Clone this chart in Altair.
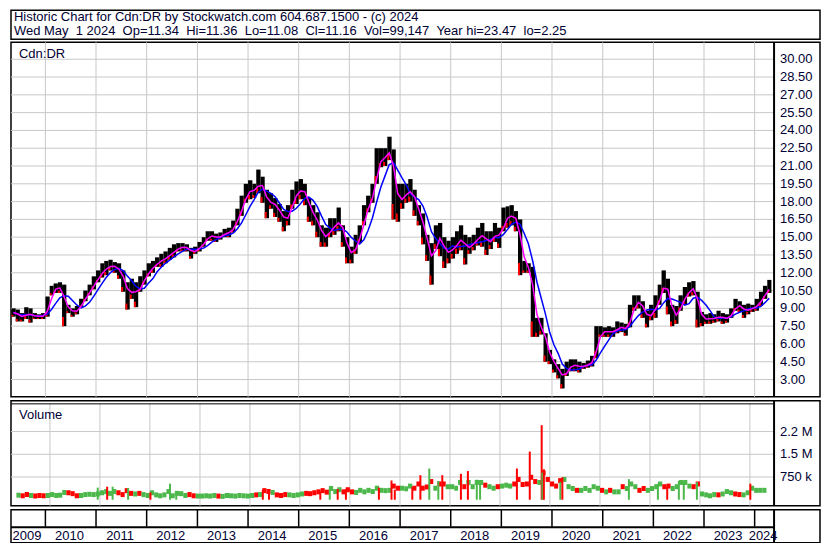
import altair as alt
import pandas as pd

# ---------------- texts ----------------
TITLE_LINE_1 = "Historic Chart for Cdn:DR by Stockwatch.com 604.687.1500 - (c) 2024"
TITLE_LINE_2 = ("Wed May\u00a0\u00a01 2024\u00a0\u00a0Op=11.34\u00a0\u00a0Hi=11.36\u00a0\u00a0Lo=11.08"
                "\u00a0\u00a0Cl=11.16\u00a0\u00a0Vol=99,147\u00a0\u00a0Year hi=23.47\u00a0\u00a0lo=2.25")
PRICE_LABEL = "Cdn:DR"
VOLUME_LABEL = "Volume"

# ---------------- data (monthly) ----------------
FIRST_MONTH = "2009-05-01"
MONTH_HIGH = [
    9.0, 8.9, 8.6, 9.1, 9.0, 8.6, 8.5, 8.6,                                  # 2009 May-Dec
    10.0, 10.9, 11.1, 11.2, 11.0, 9.3, 9.0, 9.2, 9.8, 10.5, 11.0, 11.7,      # 2010
    12.2, 12.8, 13.0, 13.1, 12.9, 12.8, 12.2, 11.2, 11.5, 11.2, 11.7, 12.2,  # 2011
    12.8, 13.0, 13.3, 13.6, 13.8, 14.1, 14.4, 14.5, 14.5, 14.4, 14.1, 14.2,  # 2012
    14.6, 15.0, 15.5, 15.5, 15.3, 15.4, 15.7, 15.8, 16.4, 17.4, 18.5, 19.5,  # 2013
    19.8, 19.5, 20.7, 20.1, 19.0, 18.7, 18.3, 17.8, 17.2, 17.7, 19.0, 19.7,  # 2014
    19.9, 19.5, 18.3, 17.7, 17.1, 16.0, 15.8, 16.6, 16.6, 17.5, 16.0, 15.0,  # 2015
    14.2, 15.2, 16.0, 17.7, 18.5, 19.5, 22.5, 22.5, 22.5, 23.47, 22.4, 19.5, # 2016
    19.5, 19.5, 19.9, 19.0, 17.7, 17.0, 15.2, 14.5, 16.0, 16.2, 15.0, 14.7,  # 2017
    15.0, 15.5, 16.0, 15.2, 15.0, 15.2, 15.8, 16.2, 15.5, 15.5, 16.2, 15.8,  # 2018
    17.5, 17.6, 17.7, 17.2, 16.5, 13.0, 12.8, 12.5, 8.2, 8.2, 6.9, 5.5,      # 2019
    4.7, 4.3, 3.9, 4.5, 4.7, 4.7, 4.5, 4.4, 4.6, 5.0, 7.5, 7.5,              # 2020
    7.4, 7.5, 7.4, 7.9, 7.8, 7.7, 9.3, 10.1, 10.1, 9.6, 8.8, 9.3,            # 2021
    10.1, 11.0, 12.2, 11.5, 9.3, 9.2, 10.1, 10.8, 11.2, 11.3, 10.4, 8.7,     # 2022
    8.5, 8.6, 8.5, 8.8, 8.6, 8.5, 9.0, 9.8, 9.6, 9.3, 9.4, 9.3,              # 2023
    9.8, 10.4, 10.9, 11.4,                                                   # 2024 Jan-Apr
]
MONTH_LOW = [
    8.3, 7.9, 7.9, 8.1, 7.8, 8.1, 8.1, 8.1,
    8.3, 10.1, 10.3, 10.3, 7.5, 8.6, 8.3, 8.5, 9.1, 9.6, 10.1, 10.6,
    11.2, 11.6, 11.8, 12.2, 12.0, 11.5, 10.4, 8.9, 9.8, 9.1, 10.4, 11.0,
    11.7, 12.0, 12.5, 12.5, 12.8, 13.1, 13.3, 13.8, 13.8, 13.8, 13.2, 13.6,
    13.8, 14.2, 14.7, 14.7, 14.6, 14.8, 15.0, 15.0, 15.4, 16.0, 16.8, 17.9,
    18.2, 18.3, 18.7, 17.9, 16.6, 17.4, 16.7, 16.3, 15.5, 16.0, 17.4, 17.8,
    18.2, 17.7, 16.3, 16.0, 15.0, 14.2, 14.2, 15.0, 15.2, 15.5, 14.2, 12.8,
    12.8, 13.6, 14.5, 16.0, 17.1, 17.9, 19.5, 20.9, 21.0, 21.5, 16.5, 16.3,
    17.4, 17.9, 18.0, 16.8, 16.0, 14.4, 13.0, 11.0, 14.0, 13.4, 12.4, 12.8,
    13.2, 13.6, 13.9, 12.7, 13.6, 13.9, 14.3, 14.2, 13.5, 14.0, 14.6, 14.1,
    15.5, 15.8, 16.0, 15.5, 11.8, 12.0, 12.0, 6.6, 6.6, 6.8, 4.5, 4.3,
    3.6, 3.1, 2.25, 3.3, 3.7, 3.7, 3.6, 3.9, 4.0, 4.1, 4.8, 6.6,
    6.6, 6.6, 6.6, 6.9, 7.0, 6.7, 7.4, 8.8, 9.0, 8.2, 7.4, 8.0,
    8.2, 9.3, 10.3, 8.5, 7.5, 7.7, 8.8, 9.3, 10.0, 10.1, 7.4, 7.5,
    7.7, 7.7, 7.8, 7.9, 7.7, 7.8, 8.2, 8.8, 8.7, 8.2, 8.5, 8.7,
    8.8, 9.2, 9.8, 10.3,
]
MONTH_VOLUME_K = [
    150, 130, 170, 140, 120, 140, 130, 140,
    170, 140, 150, 240, 230, 200, 130, 140, 170, 180, 170, 190,
    230, 270, 210, 270, 230, 170, 300, 210, 190, 210, 170, 140,
    230, 160, 130, 160, 270, 130, 210, 200, 140, 170, 130, 120,
    120, 130, 120, 140, 120, 110, 140, 130, 120, 140, 130, 120,
    140, 160, 170, 300, 270, 240, 160, 140, 170, 160, 140, 160,
    190, 210, 200, 230, 260, 300, 250, 370, 270, 330, 260, 330,
    260, 240, 310, 260, 310, 270, 380, 310, 300, 310, 450, 380,
    380, 360, 450, 380, 520, 380, 420, 600, 380, 520, 520, 430,
    430, 380, 570, 430, 570, 430, 570, 570, 480, 430, 380, 430,
    450, 480, 450, 520, 670, 500, 520, 740, 600, 570, 880, 670,
    520, 450, 630, 670, 430, 370, 310, 310, 370, 310, 430, 380,
    310, 260, 310, 260, 260, 430, 370, 520, 430, 310, 370, 310,
    370, 430, 520, 430, 450, 370, 430, 570, 570, 450, 430, 520,
    190, 160, 130, 170, 160, 190, 270, 230, 190, 170, 160, 230,
    380, 310, 310, 310,
]
# single-week volume spikes
SPIKE_DATES = [
    "2010-12-16", "2011-02-23", "2011-04-04", "2011-07-26", "2012-01-05", "2012-05-27",
    "2012-07-12", "2014-04-05", "2014-05-20", "2015-05-30", "2015-08-07", "2015-10-04",
    "2015-12-03", "2016-07-31", "2016-10-31", "2016-11-24", "2017-04-01", "2017-05-30",
    "2017-08-03", "2017-10-08", "2017-11-06", "2018-03-22", "2018-05-12", "2018-07-16",
    "2018-08-09", "2019-05-05", "2019-08-07", "2019-11-02", "2019-11-07", "2019-11-18",
    "2020-03-17", "2020-04-01", "2021-07-31", "2022-02-28", "2022-05-07", "2022-07-31",
    "2022-09-05", "2022-12-10", "2024-01-04",
]
SPIKE_VOLUME_K = [
    400, 430, 430, 390, 240, 530,
    240, 325, 280, 280, 370, 350,
    350, 400, 635, 330, 415, 810,
    1030, 620, 810, 855, 945, 660,
    620, 1030, 1590, 2460, 900, 1005,
    590, 740, 680, 530, 440, 620,
    600, 580, 530,
]
SPIKE_DIR = [
    "up", "down", "up", "up", "down", "up",
    "up", "down", "down", "down", "up", "down",
    "down", "down", "down", "down", "down", "down",
    "up", "up", "down", "down", "down", "up",
    "up", "down", "down", "down", "up", "down",
    "up", "down", "up", "up", "down", "up",
    "up", "up", "down",
]

PRICE_TICKS = [3.0, 4.5, 6.0, 7.5, 9.0, 10.5, 12.0, 13.5, 15.0, 16.5, 18.0, 19.5,
               21.0, 22.5, 24.0, 25.5, 27.0, 28.5, 30.0]
VOLUME_TICKS = [750000, 1500000, 2250000]
VOLUME_TICK_LABELS = ["750 k", "1.5 M", "2.2 M"]
YEARS = list(range(2009, 2025))

# ---------------- layout / style ----------------
W = 810
PLOT_W = 764
HEADER_H = 29
PRICE_H = 355
VOL_H = 105
STRIP_H = 33
FONT = "Liberation Sans"
TEXT_COLOR = "#000033"
GRID = "#c8c8c8"
RED = "#ff0000"
GREEN = "#4cb84c"

# ---------------- tables ----------------
months = pd.date_range(FIRST_MONTH, periods=len(MONTH_HIGH), freq="MS")
bars = pd.DataFrame({
    "start": months,
    "end": months + pd.offsets.MonthBegin(1),
    "center": months + pd.Timedelta(days=14),
    "hi": MONTH_HIGH,
    "lo": MONTH_LOW,
    "vol": [v * 1000 for v in MONTH_VOLUME_K],
})
spikes = pd.DataFrame({
    "date": pd.to_datetime(SPIKE_DATES),
    "vol": [v * 1000 for v in SPIKE_VOLUME_K],
    "dir": SPIKE_DIR,
})
year_starts = pd.DataFrame({"d": pd.to_datetime([f"{y}-01-01" for y in YEARS[1:]])})
domain_start = pd.Timestamp("2009-04-28")
domain_end = pd.Timestamp("2024-05-20")
label_pos = []
for y in YEARS:
    a = max(pd.Timestamp(f"{y}-01-01"), domain_start)
    b = min(pd.Timestamp(f"{y + 1}-01-01"), domain_end)
    label_pos.append(a + (b - a) / 2 - pd.Timedelta(days=9))
year_labels = pd.DataFrame({"label": [str(y) for y in YEARS], "pos": label_pos})
price_ticks = pd.DataFrame({"v": PRICE_TICKS})
vol_ticks = pd.DataFrame({"v": VOLUME_TICKS, "label": VOLUME_TICK_LABELS})
one = pd.DataFrame({"k": [0]})

X_SCALE = alt.Scale(
    domain=[alt.DateTime(year=2009, month=4, date=28), alt.DateTime(year=2024, month=5, date=20)],
    range=[0, PLOT_W], nice=False)
PRICE_SCALE = alt.Scale(domain=[1.54, 31.43], nice=False, zero=False)
VOL_SCALE = alt.Scale(domain=[0, 3000000], range=[VOL_H - 1, 3], nice=False)

txt = dict(align="left", baseline="alphabetic", font=FONT, fontSize=13, color=TEXT_COLOR)
xq = lambda f: alt.X(f, scale=X_SCALE, axis=None)

# ---------------- header ----------------
header = alt.layer(
    alt.Chart(pd.DataFrame({"t": [TITLE_LINE_1]})).mark_text(**txt).encode(
        text="t:N", x=alt.value(3), y=alt.value(11)),
    alt.Chart(pd.DataFrame({"t": [TITLE_LINE_2]})).mark_text(**txt).encode(
        text="t:N", x=alt.value(3), y=alt.value(25)),
).properties(width=W, height=HEADER_H)

# ---------------- price panel ----------------
grid_v_price = alt.Chart(year_starts).mark_rule(color=GRID, strokeWidth=1).encode(x=xq("d:T"))
grid_h_price = alt.Chart(price_ticks).mark_rule(color=GRID, strokeWidth=1).encode(
    y=alt.Y("v:Q", scale=PRICE_SCALE, axis=None),
    x=alt.value(0), x2=alt.value(PLOT_W))
price_tick_labels = alt.Chart(price_ticks).mark_text(
    align="left", baseline="middle", font=FONT, fontSize=13, color=TEXT_COLOR).encode(
    y=alt.Y("v:Q", scale=PRICE_SCALE, axis=None),
    x=alt.value(PLOT_W + 6), text=alt.Text("v:Q", format=".2f"))
price_bars = alt.Chart(bars).mark_bar(color="black").encode(
    x=xq("start:T"), x2="end:T",
    y=alt.Y("lo:Q", scale=PRICE_SCALE, axis=None), y2="hi:Q")
# red low-end ticks of the bars
price_low_ticks = alt.Chart(bars).transform_calculate(
    lo_top="datum.lo + 0.22 * (datum.hi - datum.lo)"
).mark_bar(color=RED).encode(
    x=xq("start:T"), x2="center:T",
    y=alt.Y("lo:Q", scale=PRICE_SCALE, axis=None), y2="lo_top:Q")
ma_base = alt.Chart(bars).transform_calculate(
    mid="(datum.hi + datum.lo) / 2"
).transform_window(
    ma_short="mean(mid)", frame=[-1, 0], sort=[alt.SortField("start")]
).transform_window(
    ma_long="mean(mid)", frame=[-4, 0], sort=[alt.SortField("start")]
)
ma_long = ma_base.mark_line(color="#0000ff", strokeWidth=1.5).encode(
    x=xq("center:T"), y=alt.Y("ma_long:Q", scale=PRICE_SCALE, axis=None))
ma_short = ma_base.mark_line(color="#ff00ff", strokeWidth=1.5).encode(
    x=xq("center:T"), y=alt.Y("ma_short:Q", scale=PRICE_SCALE, axis=None))
price_label = alt.Chart(pd.DataFrame({"t": [PRICE_LABEL]})).mark_text(**txt).encode(
    text="t:N", x=alt.value(8), y=alt.value(16))
price_vline = alt.Chart(one).mark_rule(color="black", strokeWidth=2).encode(
    x=alt.value(PLOT_W), y=alt.value(0), y2=alt.value(PRICE_H))
price = alt.layer(grid_v_price, grid_h_price, price_bars, price_low_ticks, ma_long, ma_short,
                  price_label, price_vline, price_tick_labels).properties(width=W, height=PRICE_H)

# ---------------- volume panel ----------------
dir_color = alt.Color("dir:N", scale=alt.Scale(domain=["down", "up"], range=[RED, GREEN]), legend=None)
grid_v_vol = alt.Chart(year_starts).mark_rule(color=GRID, strokeWidth=1).encode(
    x=xq("d:T"), y=alt.value(3), y2=alt.value(VOL_H))
grid_h_vol = alt.Chart(vol_ticks).mark_rule(color=GRID, strokeWidth=1).encode(
    y=alt.Y("v:Q", scale=VOL_SCALE, axis=None),
    x=alt.value(0), x2=alt.value(PLOT_W))
vol_tick_labels = alt.Chart(vol_ticks).mark_text(
    align="left", baseline="middle", font=FONT, fontSize=13, color=TEXT_COLOR).encode(
    y=alt.Y("v:Q", scale=VOL_SCALE, axis=None),
    x=alt.value(PLOT_W + 6), text="label:N")
double_line = alt.Chart(one).mark_rule(color="black", strokeWidth=1).encode(
    x=alt.value(0), x2=alt.value(PLOT_W), y=alt.value(3))
vol_vline = alt.Chart(one).mark_rule(color="black", strokeWidth=2).encode(
    x=alt.value(PLOT_W), y=alt.value(0), y2=alt.value(VOL_H))
vol_bars = alt.Chart(bars).transform_calculate(
    mid="(datum.hi + datum.lo) / 2"
).transform_window(
    prev="lag(mid)", sort=[alt.SortField("start")]
).transform_calculate(
    dir="datum.prev == null || datum.mid >= datum.prev ? 'up' : 'down'"
).mark_bar().encode(
    x=xq("start:T"), x2="end:T",
    y=alt.Y("vol:Q", scale=VOL_SCALE, axis=None), color=dir_color)
spike_bars = alt.Chart(spikes).mark_bar(size=2).encode(
    x=xq("date:T"), y=alt.Y("vol:Q", scale=VOL_SCALE, axis=None), color=dir_color)
vol_label = alt.Chart(pd.DataFrame({"t": [VOLUME_LABEL]})).mark_text(**txt).encode(
    text="t:N", x=alt.value(8), y=alt.value(18))
volume = alt.layer(grid_v_vol, grid_h_vol, double_line, vol_bars, spike_bars, vol_label,
                   vol_vline, vol_tick_labels).properties(width=W, height=VOL_H)

# ---------------- year strip ----------------
strip_ticks = alt.Chart(year_starts).mark_rule(color="black", strokeWidth=1.5).encode(
    x=xq("d:T"), y=alt.value(0), y2=alt.value(17))
strip_hline = alt.Chart(one).mark_rule(color="black", strokeWidth=2).encode(
    x=alt.value(0), x2=alt.value(PLOT_W), y=alt.value(17.5))
strip_vline = alt.Chart(one).mark_rule(color="black", strokeWidth=2).encode(
    x=alt.value(PLOT_W), y=alt.value(0), y2=alt.value(STRIP_H))
strip_labels = alt.Chart(year_labels).mark_text(
    align="center", baseline="alphabetic", font=FONT, fontSize=13, color=TEXT_COLOR).encode(
    x=xq("pos:T"), y=alt.value(30.5), text="label:N")
strip = alt.layer(strip_ticks, strip_hline, strip_vline, strip_labels).properties(
    width=W, height=STRIP_H)

chart = alt.vconcat(header, price, volume, strip, spacing=0).properties(
    padding={"left": 1, "top": 1, "right": 1, "bottom": 1}
).configure_view(stroke="black", strokeWidth=1.5)

chart.save("out.html", embed_options={"renderer": "svg", "actions": False})
